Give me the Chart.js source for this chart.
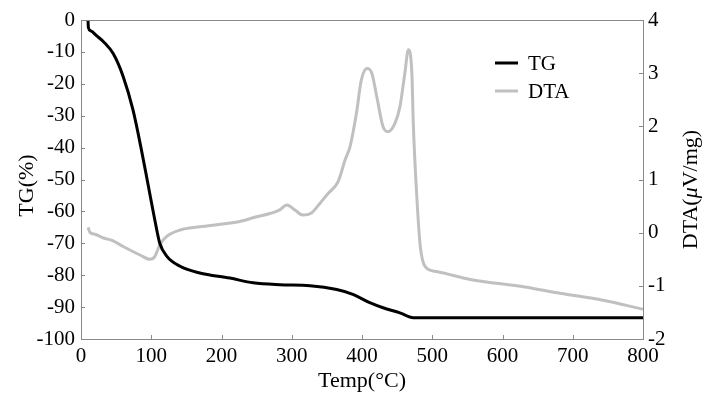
<!DOCTYPE html>
<html>
<head>
<meta charset="utf-8">
<script src="https://cdn.jsdelivr.net/npm/chart.js@4/dist/chart.umd.min.js"></script>
<style>
html,body{margin:0;padding:0;background:#fff;}
#wrap{width:714px;height:394px;position:relative;}
</style>
</head>
<body>
<div id="wrap"><canvas id="c" width="714" height="394"></canvas></div>
<script>
// ---- data ----
const tgTemp = [10, 10.5, 14, 22, 32, 46, 60, 74, 86, 96, 105, 112, 122, 141, 169, 212, 245, 283, 326, 364, 387, 411, 430, 454, 473, 500, 800];
const tgValues = [0, -2.4, -3.4, -4.9, -6.8, -10.6, -17.7, -28.2, -40.7, -52.2, -62.6, -69.9, -74.0, -77.2, -79.3, -80.9, -82.4, -83.0, -83.3, -84.5, -86.0, -88.6, -90.2, -91.8, -93.3, -93.3, -93.3];

const dtaTemp = [10, 13, 20, 32, 45, 60, 84, 98, 105, 112, 122, 141, 169, 198, 226, 250, 269, 283, 293, 305, 316, 328, 340, 352, 366, 376, 383, 392, 399, 407, 414, 421, 430, 437, 447, 454, 461, 466, 471, 473, 478, 483, 490, 506, 554, 632, 682, 743, 800];
const dtaValues = [0.1, 0.0, -0.03, -0.1, -0.15, -0.26, -0.42, -0.50, -0.45, -0.23, -0.07, 0.05, 0.11, 0.16, 0.21, 0.30, 0.36, 0.43, 0.52, 0.42, 0.33, 0.37, 0.55, 0.74, 0.96, 1.37, 1.62, 2.24, 2.87, 3.09, 3.0, 2.56, 1.99, 1.90, 2.06, 2.37, 3.0, 3.44, 3.0, 2.06, 0.68, -0.26, -0.64, -0.73, -0.88, -1.02, -1.14, -1.27, -1.44];

const xTicks = [0, 100, 200, 300, 400, 500, 600, 700, 800];
const tgTicks = [0, -10, -20, -30, -40, -50, -60, -70, -80, -90, -100];
const dtaTicks = [4, 3, 2, 1, 0, -1, -2];

const seriesNames = ['TG', 'DTA'];
const xTitle = 'Temp(\u00B0C)';
const yTitle = 'TG(%)';
const y2TitleParts = ['DTA(', '\u03BC', 'V/mg)'];

// ---- style ----
const FONT = 'Liberation Serif';
const FS = 21;
const TS = 22;
const AXIS = '#8a8a8a';
const TG_COLOR = '#000000';
const DTA_COLOR = '#c0c0c0';

const tgData = tgTemp.map((t, i) => ({x: t, y: tgValues[i]}));
const dtaData = dtaTemp.map((t, i) => ({x: t, y: dtaValues[i]}));

const framePlugin = {
  id: 'frame',
  afterDraw(chart) {
    const {ctx, chartArea: a, scales} = chart;
    ctx.save();
    ctx.strokeStyle = AXIS;
    ctx.lineWidth = 1;
    ctx.strokeRect(Math.round(a.left) + 0.5, Math.round(a.top) + 0.5, Math.round(a.right - a.left), Math.round(a.bottom - a.top));
    // inward ticks
    const L = 4;
    ctx.beginPath();
    scales.x.ticks.forEach(t => {
      const px = Math.round(scales.x.getPixelForValue(t.value)) + 0.5;
      ctx.moveTo(px, a.bottom); ctx.lineTo(px, a.bottom - L);
    });
    scales.y.ticks.forEach(t => {
      const py = Math.round(scales.y.getPixelForValue(t.value)) + 0.5;
      ctx.moveTo(a.left, py); ctx.lineTo(a.left + L, py);
    });
    scales.y2.ticks.forEach(t => {
      const py = Math.round(scales.y2.getPixelForValue(t.value)) + 0.5;
      ctx.moveTo(a.right, py); ctx.lineTo(a.right - L, py);
    });
    ctx.stroke();

    // legend
    ctx.fillStyle = '#000';
    ctx.font = FS + 'px "' + FONT + '"';
    ctx.textBaseline = 'middle';
    ctx.textAlign = 'left';
    const lx = a.left + 414, ly = a.top + 43, gap = 28;
    [TG_COLOR, DTA_COLOR].forEach((col, i) => {
      ctx.strokeStyle = col;
      ctx.lineWidth = 3;
      ctx.beginPath();
      ctx.moveTo(lx, ly + i * gap);
      ctx.lineTo(lx + 23, ly + i * gap);
      ctx.stroke();
      ctx.fillText(seriesNames[i], lx + 33, ly + i * gap + 1);
    });

    // left title
    ctx.font = TS + 'px "' + FONT + '"';
    ctx.save();
    ctx.translate(27, (a.top + a.bottom) / 2 + 6);
    ctx.rotate(-Math.PI / 2);
    ctx.textAlign = 'center';
    ctx.fillText(yTitle, 0, 0);
    ctx.restore();

    // right title (bottom-to-top, italic mu)
    ctx.save();
    ctx.translate(691, (a.top + a.bottom) / 2 + 10);
    ctx.rotate(-Math.PI / 2);
    const fonts = [TS + 'px "' + FONT + '"', 'italic ' + TS + 'px "' + FONT + '"', TS + 'px "' + FONT + '"'];
    let total = 0;
    const widths = y2TitleParts.map((s, i) => { ctx.font = fonts[i]; const w = ctx.measureText(s).width; total += w; return w; });
    let x0 = -total / 2;
    ctx.textAlign = 'left';
    y2TitleParts.forEach((s, i) => { ctx.font = fonts[i]; ctx.fillText(s, x0, 0); x0 += widths[i]; });
    ctx.restore();
    ctx.restore();
  }
};

const tickFont = {family: FONT, size: FS};

new Chart(document.getElementById('c'), {
  type: 'line',
  data: {
    datasets: [
      {label: seriesNames[0], data: tgData, yAxisID: 'y', borderColor: TG_COLOR, borderWidth: 3, pointRadius: 0, cubicInterpolationMode: 'monotone', fill: false},
      {label: seriesNames[1], data: dtaData, yAxisID: 'y2', borderColor: DTA_COLOR, borderWidth: 3, pointRadius: 0, cubicInterpolationMode: 'monotone', fill: false}
    ]
  },
  options: {
    responsive: false,
    animation: false,
    layout: {padding: {top: 20, left: 0, right: 0, bottom: 0}},
    plugins: {legend: {display: false}, tooltip: {enabled: false}},
    scales: {
      x: {
        type: 'linear', position: 'bottom', min: 0, max: 800,
        afterBuildTicks: s => { s.ticks = xTicks.map(v => ({value: v})); },
        ticks: {font: tickFont, color: '#000', padding: 5, maxRotation: 0, autoSkip: false},
        grid: {display: false, drawTicks: false},
        border: {display: false},
        title: {display: true, text: xTitle, font: {family: FONT, size: TS}, color: '#000', padding: {top: 0, bottom: 0}},
        afterFit: s => { s.height = 55; }
      },
      y: {
        type: 'linear', position: 'left', min: -100, max: 0,
        afterBuildTicks: s => { s.ticks = tgTicks.map(v => ({value: v})); },
        ticks: {font: tickFont, color: '#000', padding: 6, autoSkip: false},
        grid: {display: false, drawTicks: false},
        border: {display: false},
        afterFit: s => { s.width = 81; }
      },
      y2: {
        type: 'linear', position: 'right', min: -2, max: 4,
        afterBuildTicks: s => { s.ticks = dtaTicks.map(v => ({value: v})); },
        ticks: {font: tickFont, color: '#000', padding: 5, autoSkip: false},
        grid: {display: false, drawTicks: false},
        border: {display: false},
        afterFit: s => { s.width = 71; }
      }
    }
  },
  plugins: [framePlugin]
});
</script>
</body>
</html>
